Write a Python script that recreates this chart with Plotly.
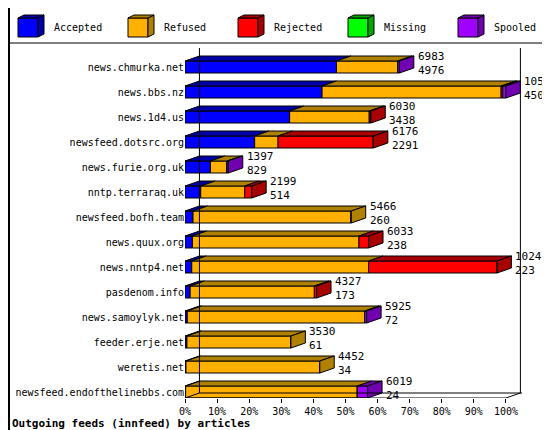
import plotly.graph_objects as go

feeds = ['news.chmurka.net', 'news.bbs.nz', 'news.1d4.us', 'newsfeed.dotsrc.org',
         'news.furie.org.uk', 'nntp.terraraq.uk', 'newsfeed.bofh.team', 'news.quux.org',
         'news.nntp4.net', 'pasdenom.info', 'news.samoylyk.net', 'feeder.erje.net',
         'weretis.net', 'newsfeed.endofthelinebbs.com']
offered = [6983, 10544, 6030, 6176, 1397, 2199, 5466, 6033, 10247, 4327, 5925, 3530, 4452, 6019]
accepted_n = [4976, 4500, 3438, 2291, 829, 514, 260, 238, 223, 173, 72, 61, 34, 24]

# segment widths in % of the largest feed
accepted = [47.2, 42.7, 32.6, 21.7, 7.9, 4.9, 2.5, 2.3, 2.1, 1.6, 0.7, 0.6, 0.3, 0.2]
refused = [19.1, 55.8, 24.8, 7.3, 5.2, 13.7, 49.3, 51.9, 55.1, 38.7, 55.3, 32.4, 41.7, 53.5]
rejected = [0, 0.5, 0.5, 29.7, 0, 2.2, 0, 3.0, 40.0, 0.7, 0, 0, 0, 0]
missing = [0] * 14
spooled = [0.5, 1.0, 0, 0, 0.4, 0, 0, 0, 0, 0, 0.6, 0, 0, 3.2]

series = [('Accepted', accepted, '#0000ff', '#0000a8'),
          ('Refused', refused, '#ffb000', '#b08000'),
          ('Rejected', rejected, '#ff0000', '#a80000'),
          ('Missing', missing, '#00ff00', '#00a800'),
          ('Spooled', spooled, '#a000ff', '#7000b0')]

DX, DY, H = 4.5, 0.2, 0.24
FONT = 'DejaVu Sans Mono'
FS = 10
fig = go.Figure()
shapes = []
ys = list(range(len(feeds)))
starts = [0.0] * len(feeds)
ends = [sum(s[1][i] for s in series) for i in ys]

for name, vals, col, dark in series:
    fig.add_trace(go.Bar(y=ys, x=vals, base=starts[:], orientation='h', width=2 * H,
                         marker=dict(color=col, line=dict(color='black', width=1)),
                         name=name, showlegend=False))
    for i in ys:
        v = vals[i]
        if v <= 0:
            continue
        x0, x1 = starts[i], starts[i] + v
        top = i - H
        shapes.append(dict(type='path', xref='x', yref='y', fillcolor=dark,
                           line=dict(color='black', width=1),
                           path=f'M{x0},{top} L{x1},{top} L{x1+DX},{top-DY} L{x0+DX},{top-DY} Z'))
        if abs(x1 - ends[i]) < 1e-9:
            shapes.append(dict(type='path', xref='x', yref='y', fillcolor=dark,
                               line=dict(color='black', width=1),
                               path=f'M{x1},{top} L{x1+DX},{top-DY} L{x1+DX},{i+H-DY} L{x1},{i+H} Z'))
        starts[i] = x1

annotations = []
for i in ys:
    annotations.append(dict(x=ends[i] + DX, y=i - 0.15, xref='x', yref='y', xanchor='left',
                            yanchor='middle', showarrow=False, xshift=2, align='left',
                            text=f'{offered[i]}<br>{accepted_n[i]}',
                            font=dict(family=FONT, size=FS + 1, color='black')))

# back wall and floor
yb = 13.24
shapes += [
    dict(type='line', xref='x', yref='y', x0=DX, x1=DX, y0=-0.76, y1=yb - DY, line=dict(color='black', width=1)),
    dict(type='line', xref='x', yref='y', x0=100 + DX, x1=100 + DX, y0=-0.76, y1=yb - DY, line=dict(color='black', width=1)),
    dict(type='line', xref='x', yref='y', x0=DX, x1=110, y0=yb - DY, y1=yb - DY, line=dict(color='black', width=1)),
    dict(type='line', xref='x', yref='y', x0=-4.5, x1=DX, y0=yb + 0.2, y1=yb - DY, line=dict(color='black', width=1)),
    dict(type='line', xref='x', yref='y', x0=100, x1=100 + DX, y0=yb, y1=yb - DY, line=dict(color='black', width=1)),
    dict(type='line', xref='paper', yref='paper', x0=-2, x1=2, y0=1, y1=1, line=dict(color='black', width=1)),
    dict(type='rect', xref='paper', yref='paper', x0=-176 / 337, x1=(550 - 177 - 1) / 337,
         y0=-39 / 355, y1=394 / 355, line=dict(color='black', width=2)),
]

# legend
def px(x):
    return (x - 177) / 337

def py(y):
    return (390 - y) / 355

for k, (name, vals, col, dark) in enumerate(series):
    bx = 10 + 110 * k
    shapes.append(dict(type='rect', xref='paper', yref='paper', x0=px(bx), x1=px(bx + 20),
                       y0=py(29), y1=py(10), fillcolor=col, line=dict(color='black', width=1)))
    shapes.append(dict(type='path', xref='paper', yref='paper', fillcolor=dark,
                       line=dict(color='black', width=1),
                       path=f'M{px(bx+20)},{py(10)} L{px(bx+26)},{py(7)} L{px(bx+26)},{py(26)} L{px(bx+20)},{py(29)} Z'))
    shapes.append(dict(type='path', xref='paper', yref='paper', fillcolor=dark,
                       line=dict(color='black', width=1),
                       path=f'M{px(bx)},{py(10)} L{px(bx+6)},{py(7)} L{px(bx+26)},{py(7)} L{px(bx+20)},{py(10)} Z'))
    annotations.append(dict(x=px(bx + 34), y=py(19), xref='paper', yref='paper', xanchor='left',
                            yanchor='middle', showarrow=False, text=name,
                            font=dict(family=FONT, size=FS, color='black')))

annotations.append(dict(x=px(2), y=py(416), xref='paper', yref='paper', xanchor='left',
                        yanchor='middle', showarrow=False,
                        text='<b>Outgoing feeds (innfeed) by articles</b>',
                        font=dict(family=FONT, size=FS + 1, color='black')))

fig.update_layout(
    width=550, height=430, barmode='overlay', plot_bgcolor='white', paper_bgcolor='white',
    margin=dict(l=177, r=36, t=35, b=40, autoexpand=False),
    xaxis=dict(range=[0, 105], tickvals=list(range(0, 101, 10)), automargin=False,
               ticktext=[f'{v}%' for v in range(0, 101, 10)], showgrid=False, zeroline=False,
               ticks='outside', ticklen=4, tickcolor='black', showline=False,
               tickfont=dict(family=FONT, size=FS, color='black')),
    yaxis=dict(range=[13.24, -0.96], tickvals=ys, ticktext=feeds, showgrid=False, zeroline=False,
               automargin=False, ticks='', showline=False,
               tickfont=dict(family=FONT, size=FS, color='black')),
    shapes=shapes + [dict(type='line', xref='x', yref='y', x0=0, x1=100, y0=yb, y1=yb,
                          line=dict(color='black', width=1))],
    annotations=annotations,
)
fig.write_html('out.html')
